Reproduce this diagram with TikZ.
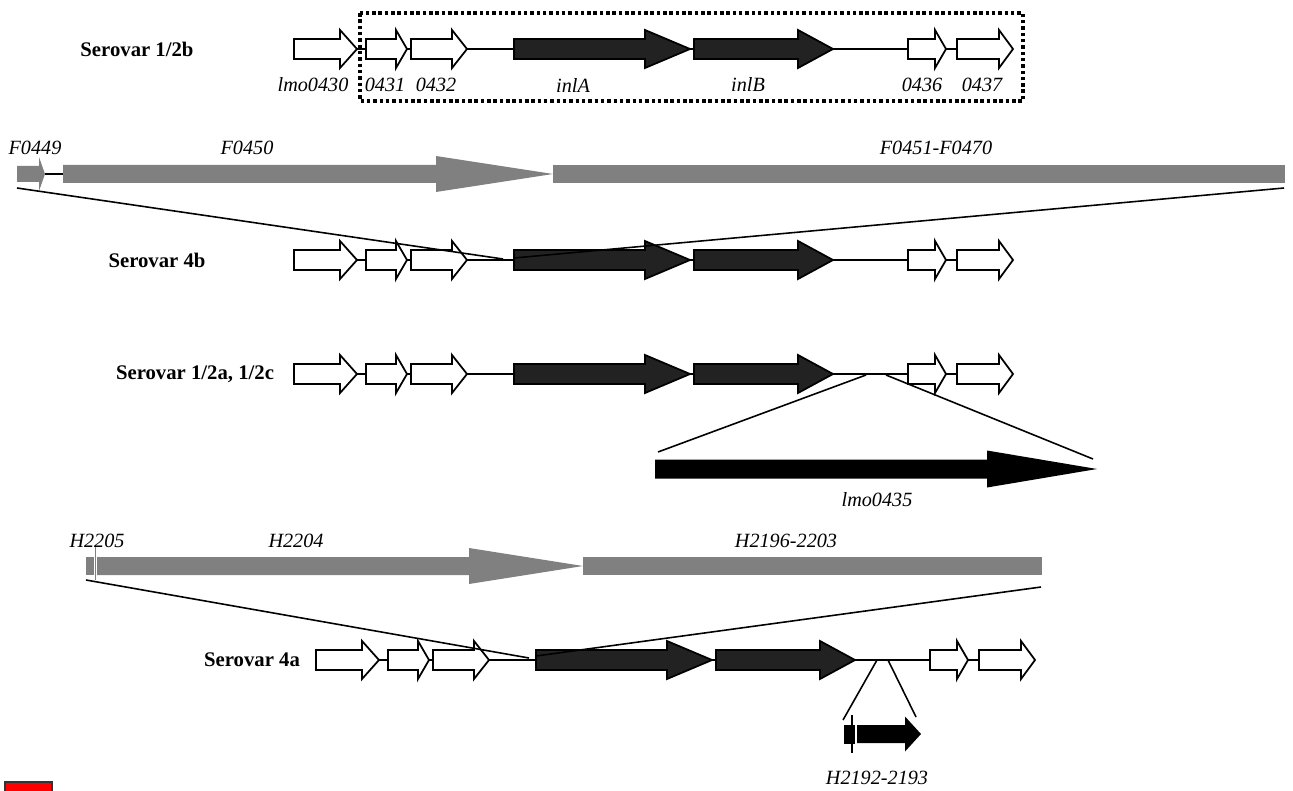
\documentclass[tikz,border=0pt]{standalone}
\usepackage{fontspec}
\setmainfont{Liberation Serif}
\definecolor{inlgray}{HTML}{222222}
\definecolor{bargray}{HTML}{808080}
% gene arrow: style, left, head base, tip, y, shaft half, head half
\newcommand{\gene}[7]{\draw[#1] (#2,#5-#6) -- (#3,#5-#6) -- (#3,#5-#7) -- (#4,#5) -- (#3,#5+#7) -- (#3,#5+#6) -- (#2,#5+#6) -- cycle;}
\begin{document}
\begin{tikzpicture}[x=0.02cm, y=-0.02cm, line width=0.8pt,
    whitegene/.style={draw=black, fill=white, line width=1pt},
    inlgene/.style={draw=black, fill=inlgray, line width=1pt},
    greygene/.style={fill=bargray, draw=none},
    insgene/.style={fill=black, draw=none},
    link/.style={line width=0.9pt},
    genename/.style={font=\fontsize{11.5}{13}\selectfont\itshape, inner sep=0pt},
    serovar/.style={font=\fontsize{11.8}{13}\selectfont\bfseries, inner sep=0pt}]
    \useasboundingbox (0,0) rectangle (1293,790);

    % serovar rows
    \foreach \y/\dx in {49/0, 260/0, 374/0, 660/22} {
        \draw (294+\dx,\y) -- (1012+\dx,\y);
        \gene{whitegene}{294+\dx}{340+\dx}{357+\dx}{\y}{10}{19}
        \gene{whitegene}{366+\dx}{396+\dx}{407+\dx}{\y}{10}{19}
        \gene{whitegene}{411+\dx}{452+\dx}{467+\dx}{\y}{10}{19}
        \gene{inlgene}{514+\dx}{645+\dx}{690+\dx}{\y}{10}{19}
        \gene{inlgene}{694+\dx}{798+\dx}{833+\dx}{\y}{10}{19}
        \gene{whitegene}{908+\dx}{935+\dx}{946+\dx}{\y}{10}{19}
        \gene{whitegene}{957+\dx}{999+\dx}{1013+\dx}{\y}{10}{19}
    }
    \node[serovar] (s12b) at (137,49) {Serovar 1/2b};
    \node[serovar] (s4b) at (157,260) {Serovar 4b};
    \node[serovar] (s12a) at (195,374) {Serovar 1/2a, 1/2c};
    \node[serovar] (s4a) at (252,660) {Serovar 4a};

    \node[genename] (g0430) at (313,85) {lmo0430};
    \node[genename] (g0431) at (385,85) {0431};
    \node[genename] (g0432) at (436,85) {0432};
    \node[genename] (inlA) at (573,85) {inlA};
    \node[genename] (inlB) at (748,85) {inlB};
    \node[genename] (g0436) at (922,85) {0436};
    \node[genename] (g0437) at (982,85) {0437};
    \draw[line width=2pt, dash pattern=on 2pt off 1.6pt] (360,13) rectangle (1023,101);

    % F2365 region
    \draw (45,174) -- (63,174);
    \gene{greygene}{17}{39}{45}{174}{8}{17}
    \gene{greygene}{63}{436}{553}{174}{9}{18}
    \fill[bargray] (553,165) rectangle (1285,183);
    \node[genename] (f0449) at (35,148) {F0449};
    \node[genename] (f0450) at (247,148) {F0450};
    \node[genename] (f0451) at (936,148) {F0451-F0470};
    \coordinate (f-l) at (17,188);
    \coordinate (f-r) at (1284,188);
    \coordinate (i4b-l) at (503,259);
    \coordinate (i4b-r) at (514,258);
    \draw[link] (f-l) -- (i4b-l);
    \draw[link] (f-r) -- (i4b-r);

    % lmo0435 insertion
    \gene{insgene}{655}{987}{1097}{469}{9.5}{18.5}
    \node[genename] (g0435) at (877,500) {lmo0435};
    \coordinate (i12a-l) at (866,375);
    \coordinate (i12a-r) at (886,375);
    \coordinate (l435-l) at (658,452);
    \coordinate (l435-r) at (1093,459);
    \draw[link] (i12a-l) -- (l435-l);
    \draw[link] (i12a-r) -- (l435-r);

    % H7858 region
    \fill[bargray] (86,557) rectangle (94,575);
    \gene{greygene}{97}{469}{583}{566}{9}{18}
    \fill[bargray] (583,557) rectangle (1042,575);
    \draw[bargray, line width=0.5pt] (95,547) -- (95,580);
    \node[genename] (h2205) at (97,541) {H2205};
    \node[genename] (h2204) at (296,541) {H2204};
    \node[genename] (h2196) at (786,541) {H2196-2203};
    \coordinate (h-l) at (86,580);
    \coordinate (h-r) at (1041,587);
    \coordinate (i4a-l) at (529,658);
    \coordinate (i4a-r) at (536,656);
    \draw[link] (h-l) -- (i4a-l);
    \draw[link] (h-r) -- (i4a-r);

    % H2192-2193 insertion
    \fill (844,725) rectangle (855,744);
    \draw[line width=0.6pt] (852,715) -- (852,753);
    \gene{insgene}{857}{905}{921}{734}{9}{17.5}
    \node[genename] (h2192) at (877,778) {H2192-2193};
    \coordinate (i4a2-l) at (877,660);
    \coordinate (i4a2-r) at (888,660);
    \coordinate (l2192-l) at (843,720);
    \coordinate (l2192-r) at (916,717);
    \draw[link] (i4a2-l) -- (l2192-l);
    \draw[link] (i4a2-r) -- (l2192-r);

    \draw[fill=red, draw=black!80, line width=1pt] (5,782) rectangle (52,800);
\end{tikzpicture}
\end{document}
